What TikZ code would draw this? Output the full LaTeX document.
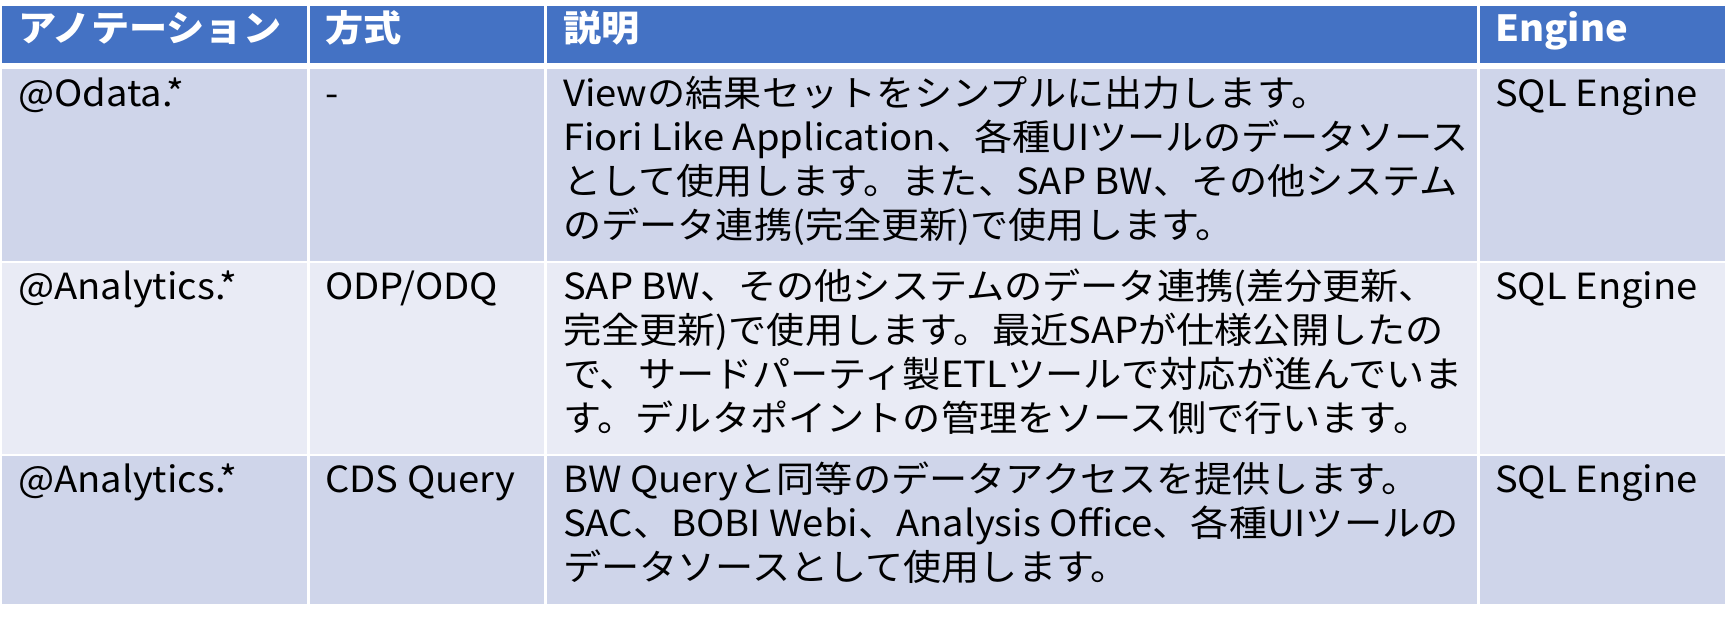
\documentclass[tikz,border=0pt]{standalone}
\usepackage{fontspec}
\setmainfont{Noto Sans CJK JP}[FakeStretch=1.06]
\definecolor{hdrblue}{HTML}{4472C4}
\definecolor{banddark}{HTML}{CFD5EA}
\definecolor{bandlight}{HTML}{E9EBF5}
\tikzset{
  cell/.style={anchor=base west, inner sep=0pt, align=left, font=\fontsize{36}{44}\selectfont},
  headcell/.style={cell, text=white, font=\fontsize{36}{44}\selectfont\bfseries}
}
\begin{document}
\begin{tikzpicture}
        [x=1pt,y=-1pt]
        \useasboundingbox (0,0) rectangle (1731,622);

        \fill[hdrblue] (2,6) rectangle (1725,63);
        \fill[banddark] (2,69) rectangle (1725,261);
        \fill[bandlight] (2,263) rectangle (1725,454);
        \fill[banddark] (2,456) rectangle (1725,604);
        \foreach \x in {308,545,1478}
        {\draw[white,line width=3pt] (\x,6) -- (\x,604);}

        \node[headcell] (h1) at (18,41) {アノテーション};
        \node[headcell] (h2) at (325,41) {方式};
        \node[headcell] (h3) at (563,41) {説明};
        \node[headcell] (h4) at (1495,41) {Engine};

        \node[cell] (a1) at (18,106) {@Odata.*};
        \node[cell] (b1) at (325,106) {-};
        \node[cell] (c1) at (563,238) {Viewの結果セットをシンプルに出力します。\\
          Fiori Like Application、各種UIツールのデータソース\\
          として使用します。また、SAP BW、その他システム\\
          のデータ連携(完全更新)で使用します。};
        \node[cell] (d1) at (1495,106) {SQL Engine};

        \node[cell] (a2) at (18,299) {@Analytics.*};
        \node[cell] (b2) at (325,299) {ODP/ODQ};
        \node[cell] (c2) at (563,431) {SAP BW、その他システムのデータ連携(差分更新、\\
          完全更新)で使用します。最近SAPが仕様公開したの\\
          で、サードパーティ製ETLツールで対応が進んでいま\\
          す。デルタポイントの管理をソース側で行います。};
        \node[cell] (d2) at (1495,299) {SQL Engine};

        \node[cell] (a3) at (18,492) {@Analytics.*};
        \node[cell] (b3) at (325,492) {CDS Query};
        \node[cell] (c3) at (563,580) {BW Queryと同等のデータアクセスを提供します。\\
          SAC、BOBI Webi、Analysis Office、各種UIツールの\\
          データソースとして使用します。};
        \node[cell] (d3) at (1495,492) {SQL Engine};
      \end{tikzpicture}
\end{document}
